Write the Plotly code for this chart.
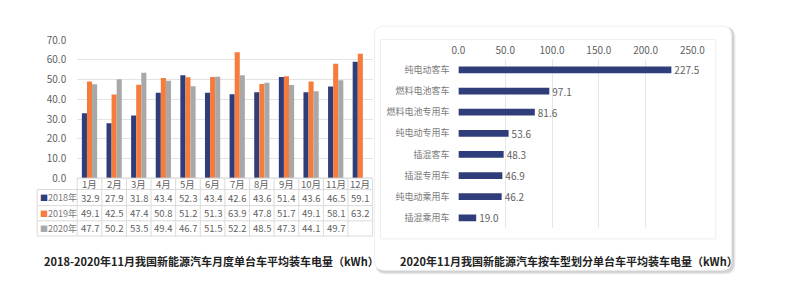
import plotly.graph_objects as go

# ---------------- data ----------------
months = ["1月", "2月", "3月", "4月", "5月", "6月", "7月", "8月", "9月", "10月", "11月", "12月"]
series_names = ["2018年", "2019年", "2020年"]
v2018 = [32.9, 27.9, 31.8, 43.4, 52.3, 43.4, 42.6, 43.6, 51.4, 43.6, 46.5, 59.1]
v2019 = [49.1, 42.5, 47.4, 50.8, 51.2, 51.3, 63.9, 47.8, 51.7, 49.1, 58.1, 63.2]
v2020 = [47.7, 50.2, 53.5, 49.4, 46.7, 51.5, 52.2, 48.5, 47.3, 44.1, 49.7, None]

vehicle_types = ["纯电动客车", "燃料电池客车", "燃料电池专用车", "纯电动专用车",
                 "插混客车", "插混专用车", "纯电动乘用车", "插混乘用车"]
vehicle_kwh = [227.5, 97.1, 81.6, 53.6, 48.3, 46.9, 46.2, 19.0]

left_title = "2018-2020年11月我国新能源汽车月度单台车平均装车电量（kWh）"
right_title = "2020年11月我国新能源汽车按车型划分单台车平均装车电量（kWh）"

# ---------------- style ----------------
W, H = 800, 301
FONT = "Noto Sans CJK SC, Noto Sans, sans-serif"
NAVY = "#2F3E7B"
ORANGE = "#F57C3C"
GRAY = "#A8A8A8"
colors = [NAVY, ORANGE, GRAY]
TXT = "#5f5f5f"
LINE = "#DADADA"


def px(x):
    return x / W


def py(y):
    return 1 - y / H


fig = go.Figure()

# left grouped bars
for name, vals, c in zip(series_names, [v2018, v2019, v2020], colors):
    fig.add_trace(go.Bar(x=months, y=vals, name=name, marker_color=c,
                         marker_line_width=0, xaxis="x", yaxis="y",
                         showlegend=False, hoverinfo="x+y"))

# right horizontal bars
fig.add_trace(go.Bar(x=vehicle_kwh, y=vehicle_types, orientation="h",
                     marker_color=NAVY, marker_line_width=0,
                     text=[f"{v:.1f}" for v in vehicle_kwh], textposition="outside",
                     constraintext="none",
                     textfont=dict(size=10, color=TXT, family=FONT),
                     cliponaxis=False, xaxis="x2", yaxis="y2", showlegend=False))

shapes = []
annotations = []

# ---- right card (shadow + white card + inner box) ----
def rrect(x0, y0, x1, y1, r):
    return (f"M {px(x0+r)} {py(y0)} L {px(x1-r)} {py(y0)} "
            f"Q {px(x1)} {py(y0)} {px(x1)} {py(y0+r)} L {px(x1)} {py(y1-r)} "
            f"Q {px(x1)} {py(y1)} {px(x1-r)} {py(y1)} L {px(x0+r)} {py(y1)} "
            f"Q {px(x0)} {py(y1)} {px(x0)} {py(y1-r)} L {px(x0)} {py(y0+r)} "
            f"Q {px(x0)} {py(y0)} {px(x0+r)} {py(y0)} Z")

for i, op in enumerate([0.04, 0.04, 0.05, 0.06]):
    d = 6 - i * 1.5
    shapes.append(dict(type="path", xref="paper", yref="paper",
                       path=rrect(378, 20, 745 + d * 0.4, 278 + d * 0.4, 10),
                       fillcolor=f"rgba(0,0,0,{op})", line_width=0, layer="below"))
shapes.append(dict(type="path", xref="paper", yref="paper",
                   path=rrect(377, 19, 743, 276, 10),
                   fillcolor="white", line=dict(color="#EFEFEF", width=1), layer="below"))
shapes.append(dict(type="rect", xref="paper", yref="paper",
                   x0=px(383), x1=px(727), y0=py(243), y1=py(33),
                   fillcolor="rgba(0,0,0,0)", line=dict(color="#EEEEEE", width=1), layer="below"))

# ---- left data table ----
tx0, tx1 = 72, 375
colw = (tx1 - tx0) / len(months)
y_axis, y_hdr, rows_y = 179, 191, [191, 208, 224, 240]
shapes.append(dict(type="line", xref="paper", yref="paper", x0=px(tx0), x1=px(tx1),
                   y0=py(y_axis), y1=py(y_axis), line=dict(color="#CFCFCF", width=1)))
for yy in rows_y:
    shapes.append(dict(type="line", xref="paper", yref="paper", x0=px(31), x1=px(tx1),
                       y0=py(yy), y1=py(yy), line=dict(color=LINE, width=1)))
for i in range(len(months) + 1):
    xx = tx0 + i * colw
    shapes.append(dict(type="line", xref="paper", yref="paper", x0=px(xx), x1=px(xx),
                       y0=py(y_axis), y1=py(rows_y[-1]), line=dict(color=LINE, width=1)))
shapes.append(dict(type="line", xref="paper", yref="paper", x0=px(31), x1=px(31),
                   y0=py(rows_y[0]), y1=py(rows_y[-1]), line=dict(color=LINE, width=1)))

for m in months:
    annotations.append(dict(x=m, xref="x", y=py((y_axis + y_hdr) / 2), yref="paper",
                            xanchor="center", yanchor="middle",
                            text=m, showarrow=False,
                            font=dict(size=9.5, color=TXT, family=FONT)))
for r, (name, vals, c) in enumerate(zip(series_names, [v2018, v2019, v2020], colors)):
    yc = py((rows_y[r] + rows_y[r + 1]) / 2)
    annotations.append(dict(x=px(32), xref="paper", y=yc, yref="paper",
                            xanchor="left", yanchor="middle",
                            text=f"<span style='color:{c};font-size:8px'>■</span>{name}",
                            showarrow=False,
                            font=dict(size=9, color="#7a7a7a", family=FONT)))
    for m, v in zip(months, vals):
        if v is None:
            continue
        annotations.append(dict(x=m, xref="x", y=yc, yref="paper", text=f"{v:.1f}",
                                xanchor="center", yanchor="middle",
                                showarrow=False, font=dict(size=9.5, color=TXT, family=FONT)))

annotations.append(dict(x=px(210), y=py(266), xref="paper", yref="paper", text=f"<b>{left_title}</b>",
                        xanchor="center", yanchor="middle",
                        showarrow=False, font=dict(size=11, color="#222222", family=FONT)))
annotations.append(dict(x=px(576), y=py(266), xref="paper", yref="paper", text=f"<b>{right_title}</b>",
                        xanchor="center", yanchor="middle",
                        showarrow=False, font=dict(size=11, color="#222222", family=FONT)))

fig.update_layout(
    width=W, height=H,
    margin=dict(l=0, r=0, t=0, b=0),
    paper_bgcolor="white", plot_bgcolor="rgba(0,0,0,0)",
    font=dict(family=FONT, color=TXT, size=10),
    barmode="group", bargap=0.38, bargroupgap=0,
    xaxis=dict(domain=[px(tx0), px(tx1)], anchor="y", showticklabels=False, ticks="",
               showgrid=False, showline=False, zeroline=False),
    yaxis=dict(domain=[py(179), py(34)], range=[0, 70], dtick=10, tickformat=".1f",
               showgrid=True, gridcolor="#E4E4E4", gridwidth=1, zeroline=False,
               showline=False, ticks="", ticklabelstandoff=10,
               tickfont=dict(size=10, color=TXT, family=FONT)),
    xaxis2=dict(domain=[px(463), px(703)], anchor="y2", side="top", range=[0, 250],
                dtick=50, tickformat=".1f", showgrid=True, gridcolor="#E6E6E6",
                zeroline=False, showline=False, ticks="", ticklabelstandoff=2,
                tickfont=dict(size=10, color=TXT, family=FONT)),
    yaxis2=dict(domain=[py(232), py(54)], anchor="x2", autorange="reversed",
                showgrid=False, zeroline=False, showline=False, ticks="",
                ticklabelstandoff=8, tickfont=dict(size=9, color="#7a7a7a", family=FONT)),
    shapes=shapes, annotations=annotations,
)
fig.update_traces(selector=dict(yaxis="y2"), width=0.32)

fig.write_html("out.html")
